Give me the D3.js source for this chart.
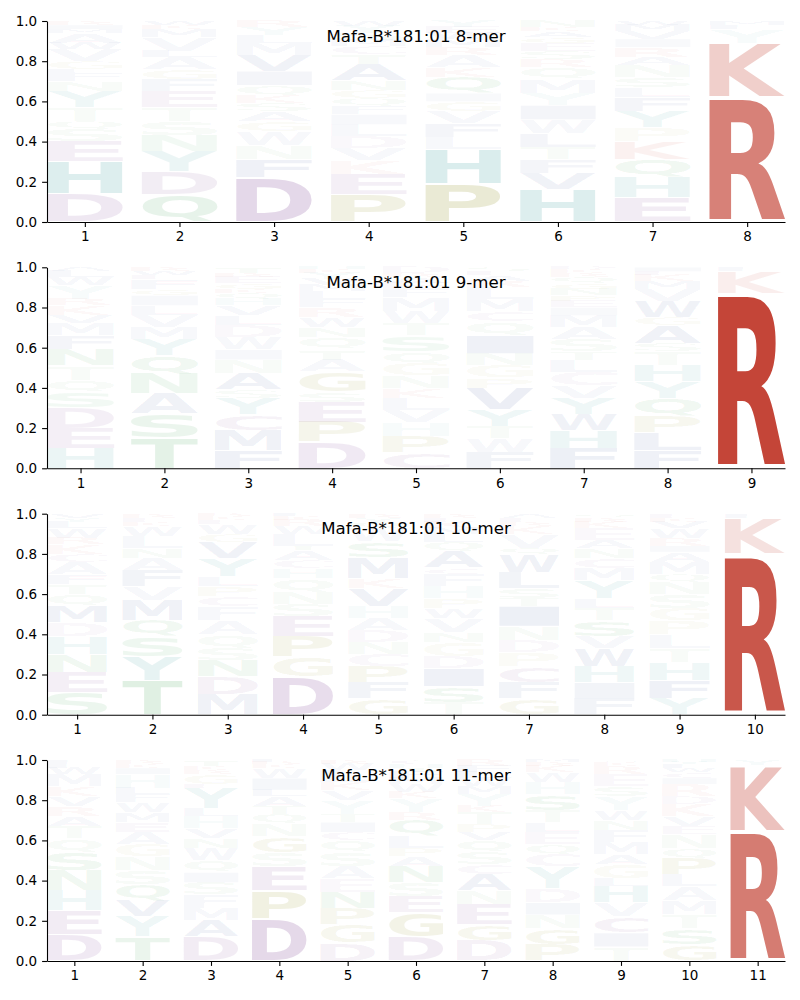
<!DOCTYPE html>
<html><head><meta charset="utf-8">
<script src="https://cdn.jsdelivr.net/npm/d3@7"></script>
<style>body{margin:0;background:#fff}</style>
</head><body>
<script>
// ---------- data ----------
const titles = ["Mafa-B*181:01 8-mer","Mafa-B*181:01 9-mer","Mafa-B*181:01 10-mer","Mafa-B*181:01 11-mer"];
const yTicks = [0, 0.2, 0.4, 0.6, 0.8, 1.0];

// each position: [letter, probability] listed bottom -> top
const logo8 = [
 [["D",.14],["H",.16],["E",.10],["S",.06],["Q",.04],["T",.07],["Y",.08],["N",.05],["F",.04],["L",.02],["G",.04],["V",.06],["W",.03],["A",.05],["M",.02],["I",.02],["R",.02]],
 [["Q",.135],["D",.115],["Y",.10],["N",.08],["S",.07],["T",.07],["E",.08],["F",.06],["G",.05],["A",.06],["L",.03],["V",.07],["M",.04],["K",.02],["W",.02]],
 [["D",.22],["F",.09],["N",.07],["W",.07],["G",.05],["A",.05],["S",.04],["K",.04],["Q",.05],["I",.07],["V",.08],["M",.06],["L",.04],["Y",.04],["R",.03]],
 [["P",.135],["E",.10],["K",.07],["V",.06],["D",.06],["L",.06],["I",.05],["F",.04],["Q",.04],["G",.04],["N",.05],["A",.08],["T",.05],["C",.04],["M",.03],["S",.04],["Y",.03],["W",.025]],
 [["P",.19],["H",.17],["L",.06],["F",.07],["V",.06],["G",.05],["I",.04],["Q",.08],["K",.05],["A",.06],["R",.04],["M",.04],["W",.03],["E",.03],["Y",.03]],
 [["H",.16],["V",.08],["F",.07],["T",.06],["L",.07],["W",.07],["I",.07],["Y",.06],["M",.07],["Q",.06],["R",.04],["S",.04],["E",.04],["G",.03],["A",.03],["K",.02],["N",.03]],
 [["E",.12],["H",.10],["Q",.09],["K",.09],["P",.07],["Y",.08],["F",.07],["L",.05],["S",.05],["N",.06],["A",.04],["R",.05],["I",.04],["V",.04],["M",.03],["W",.02]],
 [["R",.62],["K",.27],["Y",.07],["F",.02],["M",.02]]
];
const logo9 = [
 [["H",.10],["E",.10],["D",.10],["S",.08],["Q",.06],["T",.07],["N",.08],["F",.07],["M",.06],["V",.04],["K",.05],["R",.03],["Y",.07],["W",.04],["L",.03],["A",.02]],
 [["T",.15],["S",.12],["A",.10],["N",.10],["Q",.09],["Y",.08],["M",.06],["V",.06],["L",.05],["I",.05],["G",.03],["F",.05],["E",.02],["W",.02],["R",.02]],
 [["F",.09],["M",.10],["C",.08],["Y",.08],["S",.04],["A",.08],["N",.07],["I",.05],["W",.06],["D",.06],["L",.05],["V",.05],["H",.03],["Q",.03],["K",.02],["G",.03],["E",.03],["R",.02],["T",.03]],
 [["D",.13],["P",.10],["E",.10],["S",.05],["G",.10],["A",.06],["T",.05],["Q",.06],["N",.05],["W",.05],["R",.05],["F",.04],["L",.04],["M",.03],["V",.03],["Y",.03],["K",.02],["H",.01]],
 [["C",.08],["P",.08],["H",.07],["V",.06],["L",.06],["K",.05],["N",.06],["G",.06],["Q",.06],["S",.08],["T",.06],["W",.06],["M",.07],["F",.04],["E",.03],["A",.03],["R",.02],["D",.03]],
 [["F",.08],["W",.07],["T",.06],["Y",.08],["V",.11],["P",.05],["G",.06],["N",.06],["I",.09],["Q",.07],["C",.05],["M",.06],["L",.06],["R",.03],["A",.03],["E",.02],["S",.02]],
 [["F",.10],["H",.09],["W",.08],["Y",.08],["V",.06],["C",.07],["L",.06],["T",.04],["S",.06],["A",.06],["M",.06],["I",.04],["E",.03],["P",.03],["N",.03],["G",.03],["Q",.03],["R",.02],["K",.02],["D",.01]],
 [["F",.09],["L",.09],["P",.08],["Q",.09],["Y",.08],["H",.08],["T",.07],["S",.04],["A",.09],["G",.04],["W",.08],["V",.06],["M",.04],["K",.03],["E",.02],["I",.02]],
 [["R",.87],["K",.11],["F",.02]]
];
const logo10 = [
 [["S",.11],["E",.10],["N",.09],["H",.09],["D",.07],["M",.08],["Q",.06],["T",.05],["F",.05],["A",.06],["C",.04],["K",.05],["R",.03],["W",.05],["L",.03],["Y",.02],["V",.02]],
 [["T",.17],["Y",.12],["S",.10],["Q",.08],["M",.10],["V",.07],["F",.08],["A",.06],["N",.05],["L",.06],["W",.05],["K",.02],["E",.02],["R",.02]],
 [["M",.10],["D",.09],["N",.08],["S",.06],["Q",.07],["A",.07],["F",.07],["C",.05],["P",.05],["L",.05],["Y",.09],["V",.08],["G",.04],["W",.05],["E",.02],["K",.02],["R",.01]],
 [["D",.19],["G",.10],["P",.10],["E",.10],["S",.06],["N",.06],["Q",.07],["H",.05],["C",.04],["A",.05],["T",.02],["L",.06],["W",.04],["R",.03],["K",.02],["F",.01]],
 [["G",.08],["F",.08],["P",.08],["C",.06],["N",.06],["D",.06],["A",.06],["H",.06],["V",.09],["K",.05],["M",.10],["S",.08],["W",.07],["Q",.03],["Y",.02],["R",.02]],
 [["T",.06],["S",.08],["I",.09],["D",.06],["G",.07],["N",.05],["V",.07],["W",.05],["P",.05],["H",.06],["F",.06],["C",.03],["A",.08],["Q",.05],["L",.04],["M",.03],["K",.03],["E",.02],["R",.02]],
 [["G",.08],["F",.08],["C",.08],["P",.07],["D",.06],["N",.07],["I",.10],["T",.04],["S",.05],["L",.08],["W",.09],["Q",.03],["V",.07],["K",.04],["R",.02],["E",.02],["A",.02]],
 [["F",.08],["I",.08],["H",.08],["W",.09],["V",.06],["S",.08],["T",.06],["L",.05],["Y",.09],["M",.06],["C",.05],["N",.05],["A",.04],["E",.06],["K",.03],["R",.02],["Q",.02]],
 [["Y",.08],["F",.09],["H",.09],["T",.07],["L",.07],["P",.07],["G",.06],["S",.07],["N",.06],["Q",.04],["M",.06],["A",.05],["I",.03],["R",.04],["W",.05],["V",.03],["K",.02],["E",.02]],
 [["R",.80],["K",.18],["F",.02]]
];
const logo11 = [
 [["D",.13],["E",.12],["H",.10],["N",.10],["S",.09],["Q",.07],["T",.06],["A",.05],["R",.05],["V",.05],["K",.05],["M",.06],["W",.03],["L",.02],["F",.02]],
 [["T",.12],["Y",.10],["V",.08],["Q",.08],["S",.07],["N",.07],["G",.06],["A",.06],["E",.05],["M",.05],["W",.05],["F",.04],["L",.03],["H",.07],["I",.03],["K",.02],["R",.02]],
 [["D",.12],["A",.08],["M",.06],["F",.07],["S",.06],["I",.05],["Q",.06],["W",.06],["N",.05],["V",.05],["H",.06],["L",.04],["Y",.10],["E",.02],["G",.05],["R",.02],["K",.02],["T",.03]],
 [["D",.21],["P",.14],["E",.12],["S",.07],["G",.08],["N",.06],["Q",.05],["T",.04],["A",.05],["L",.03],["I",.06],["W",.05],["K",.02],["R",.01],["F",.01]],
 [["D",.09],["G",.09],["P",.08],["N",.08],["E",.07],["A",.06],["S",.07],["Q",.06],["C",.04],["I",.05],["T",.04],["Y",.07],["V",.05],["K",.04],["L",.06],["W",.03],["R",.02]],
 [["D",.12],["G",.12],["E",.08],["S",.07],["N",.08],["A",.05],["P",.04],["L",.06],["Q",.08],["R",.04],["Y",.07],["K",.03],["W",.04],["M",.03],["F",.03],["T",.02],["H",.02],["C",.02]],
 [["D",.10],["G",.08],["E",.10],["N",.07],["A",.08],["C",.05],["S",.06],["Q",.06],["V",.04],["P",.04],["T",.06],["K",.03],["Y",.06],["M",.04],["W",.04],["L",.03],["F",.03],["R",.03]],
 [["P",.08],["G",.08],["N",.07],["I",.06],["D",.07],["Y",.11],["C",.06],["Q",.05],["E",.06],["L",.05],["T",.06],["S",.08],["H",.06],["W",.05],["K",.03],["R",.02],["M",.01]],
 [["T",.07],["I",.07],["C",.08],["V",.07],["H",.08],["L",.04],["G",.07],["A",.05],["M",.06],["F",.06],["N",.05],["W",.05],["Y",.07],["S",.05],["E",.06],["R",.04],["K",.02],["Q",.01]],
 [["G",.08],["S",.08],["T",.07],["M",.07],["A",.07],["L",.06],["P",.08],["Q",.05],["N",.07],["E",.04],["V",.05],["K",.06],["D",.04],["R",.06],["I",.03],["C",.03],["W",.02],["F",.02],["Y",.01],["H",.01]],
 [["R",.645],["K",.33],["Y",.025]]
];

const letterColors = {
  K:"#c0392b", R:"#c0392b",
  D:"#74338a", E:"#74338a", C:"#74338a",
  H:"#008080", Y:"#008080",
  P:"#808000", G:"#808000",
  S:"#28963c", T:"#28963c", N:"#28963c", Q:"#28963c",
  A:"#1e3c8c", V:"#1e3c8c", L:"#1e3c8c", I:"#1e3c8c", M:"#1e3c8c", F:"#1e3c8c", W:"#1e3c8c"
};

// ---------- layout ----------
const W = 800, H = 1000;
const left = 47, right = 785, ph = 201;
const tops = [21, 267.3, 513.7, 760];
const panels = [logo8, logo9, logo10, logo11];
const vpad = 0.05, letterWidth = 0.8;

const svg = d3.select("body").append("svg").attr("width", W).attr("height", H)
  .style("font-family", "'DejaVu Sans', sans-serif");

const cv = document.createElement("canvas").getContext("2d");
const FS = 100;
cv.font = `bold ${FS}px "DejaVu Sans"`;
const metricCache = {};
function gm(c) {
  if (!metricCache[c]) {
    const t = cv.measureText(c);
    metricCache[c] = { l: t.actualBoundingBoxLeft, r: t.actualBoundingBoxRight,
                       a: t.actualBoundingBoxAscent, d: t.actualBoundingBoxDescent };
  }
  return metricCache[c];
}
const alphaOf = v => Math.max(0.03, Math.min(1, 1.1 * Math.pow(v, 1.15)));

panels.forEach((data, i) => {
  const n = data.length;
  const g = svg.append("g").attr("transform", `translate(0,${tops[i]})`);
  const x = d3.scaleLinear().domain([0.6, n + 0.4]).range([left, right]);
  const y = d3.scaleLinear().domain([0, 1]).range([ph, 0]);

  const glyphs = [];
  data.forEach((col, j) => {
    let f = 0;
    col.forEach(([c, v]) => { glyphs.push({ c, v, f, p: j + 1 }); f += v; });
  });

  g.append("g").selectAll("text").data(glyphs).join("text")
    .attr("x", 0).attr("y", 0)
    .style("font-size", FS + "px").style("font-weight", "bold")
    .style("font-family", "'DejaVu Sans'")
    .attr("fill", d => letterColors[d.c])
    .attr("fill-opacity", d => alphaOf(d.v))
    .attr("transform", d => {
      const m = gm(d.c);
      const gw = m.l + m.r, gh = m.a + m.d;
      const bx = x(d.p - letterWidth / 2), bw = x(d.p + letterWidth / 2) - bx;
      const yt = y(d.f + d.v - d.v * vpad / 2), yb = y(d.f + d.v * vpad / 2);
      const bh = yb - yt;
      return `translate(${bx},${yt}) scale(${bw / gw},${bh / gh}) translate(${m.l},${m.a})`;
    })
    .text(d => d.c);

  const ya = g.append("g").attr("transform", `translate(${left},0)`)
    .call(d3.axisLeft(y).tickValues(yTicks).tickFormat(d3.format(".1f"))
      .tickSize(4.9).tickPadding(4.9).tickSizeOuter(0));
  const xa = g.append("g").attr("transform", `translate(0,${ph})`)
    .call(d3.axisBottom(x).tickValues(d3.range(1, n + 1)).tickFormat(d3.format("d"))
      .tickSize(4.9).tickPadding(4.9).tickSizeOuter(0));
  [ya, xa].forEach(a => {
    a.selectAll("path,line").attr("stroke", "#000").attr("stroke-width", 1.1);
    a.selectAll("text").style("font-size", "13.5px").style("font-family", "'DejaVu Sans'").attr("fill", "#000");
  });

  g.append("text").attr("x", (left + right) / 2).attr("y", 20.5)
    .attr("text-anchor", "middle").style("font-size", "16.6px")
    .style("font-family", "'DejaVu Sans'").attr("fill", "#000")
    .text(titles[i]);
});
</script>
</body></html>
